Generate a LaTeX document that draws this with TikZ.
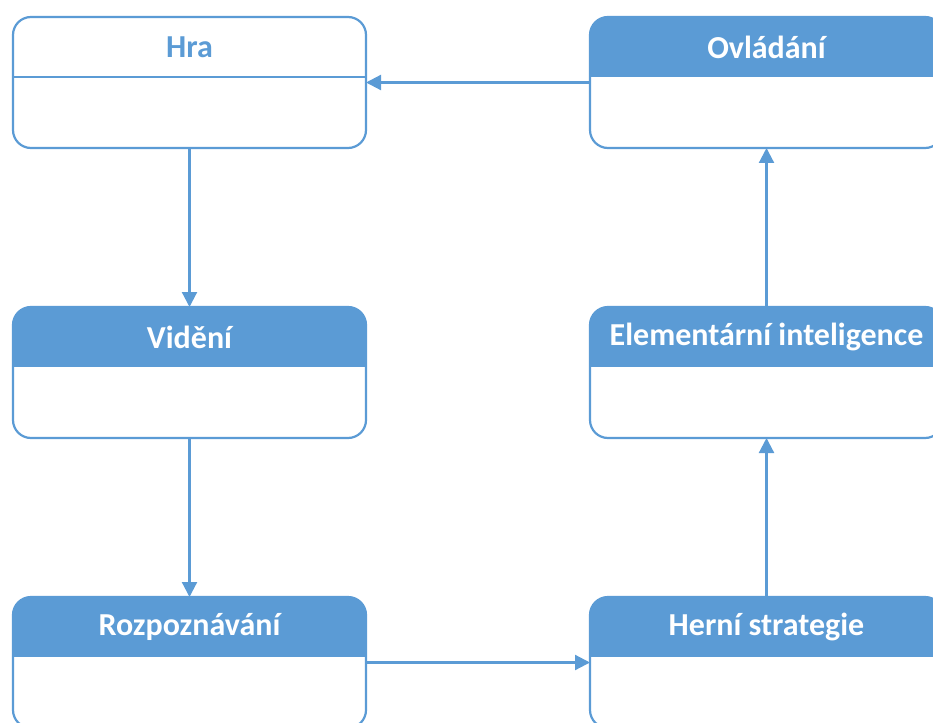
\documentclass[tikz,border=0pt]{standalone}
\usepackage{fontspec}
\setmainfont{Carlito}
\usetikzlibrary{arrows.meta}
\definecolor{stateblue}{HTML}{5B9BD5}
\tikzset{
  statebox/.style={draw=stateblue, line width=2.2pt, rounded corners=18pt,
    minimum width=353pt, minimum height=131pt, inner sep=0pt, outer sep=0pt},
  fullhead/.style={path picture={\fill[stateblue, sharp corners] (path picture bounding box.north west) rectangle ([yshift=-60pt]path picture bounding box.north east);}},
  linehead/.style={path picture={\draw[stateblue, line width=2.2pt, sharp corners] ([yshift=-60pt]path picture bounding box.north west) -- ([yshift=-60pt]path picture bounding box.north east);}},
  title/.style={font=\fontsize{32}{38}\selectfont\bfseries, text=white},
  flow/.style={draw=stateblue, line width=2.2pt, -{Triangle[length=15pt,width=15pt]}}
}
\begin{document}
\begin{tikzpicture}[x=1pt,y=-1pt]
        \clip (0,0) rectangle (933,722);

        % left column
        \node[statebox, linehead] (hra) at (189.5,82.5) {};
        \node[title, text=stateblue] (hra-t) at ([yshift=-30pt]hra.north) {Hra};

        \node[statebox, fullhead] (videni) at (189.5,372.5) {};
        \node[title] (videni-t) at ([yshift=-30pt]videni.north) {Vidění};

        \node[statebox, fullhead] (rozp) at (189.5,662.5) {};
        \node[title] (rozp-t) at ([yshift=-30pt]rozp.north) {Rozpoznávání};

        % right column
        \node[statebox, fullhead] (ovladani) at (766.5,82.5) {};
        \node[title] (ovladani-t) at ([yshift=-30pt]ovladani.north) {Ovládání};

        \node[statebox, fullhead] (elem) at (766.5,372.5) {};
        \node[title] (elem-t) at ([yshift=-30pt]elem.north) {Elementární inteligence};

        \node[statebox, fullhead] (strat) at (766.5,662.5) {};
        \node[title] (strat-t) at ([yshift=-30pt]strat.north) {Herní strategie};

        % arrows
        \draw[flow] (hra) -- (videni);
        \draw[flow] (videni) -- (rozp);
        \draw[flow] (rozp) -- (strat);
        \draw[flow] (strat) -- (elem);
        \draw[flow] (elem) -- (ovladani);
        \draw[flow] (ovladani) -- (hra);
      \end{tikzpicture}
\end{document}
